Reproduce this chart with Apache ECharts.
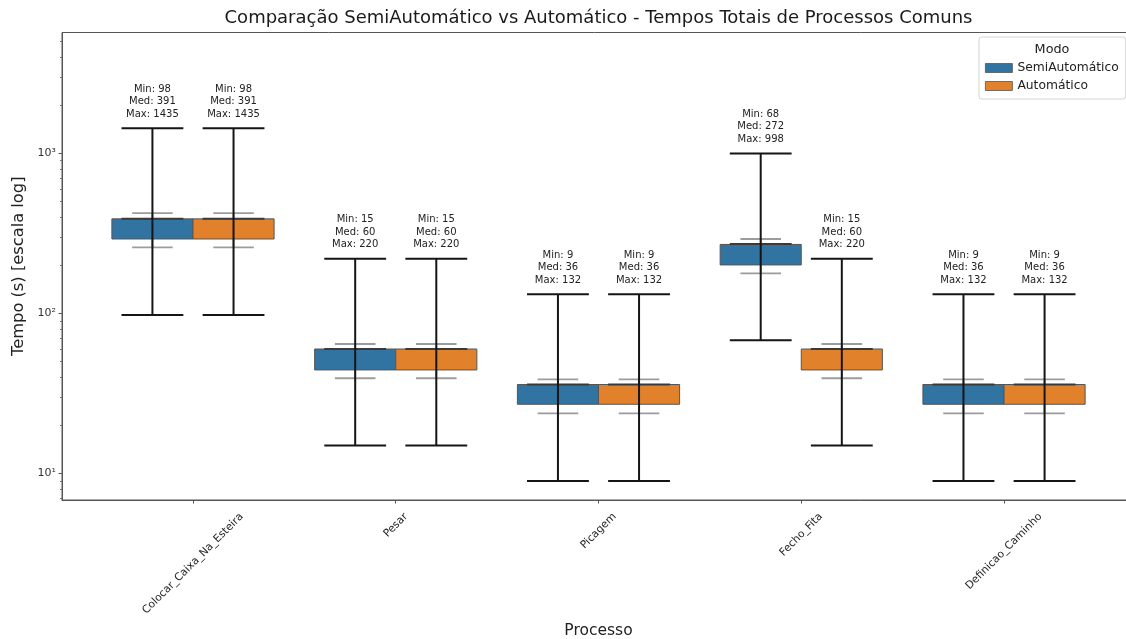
<!DOCTYPE html>
<html><head><meta charset="utf-8">
<script src="https://cdn.jsdelivr.net/npm/echarts@6/dist/echarts.min.js"></script>
<style>html,body{margin:0;padding:0;background:#fff}#c{width:1126px;height:639px}</style>
</head><body><div id="c"></div>
<script>
const categories = ['Colocar_Caixa_Na_Esteira', 'Pesar', 'Picagem', 'Fecho_Fita', 'Definicao_Caminho'];
const seriesNames = ['SemiAutomático', 'Automático'];
const semiMin = [98, 15, 9, 68, 9];
const semiMed = [391, 60, 36, 272, 36];
const semiMax = [1435, 220, 132, 998, 132];
const semiQ1 = [292, 44.4, 27.1, 201, 27.1];
const semiQ3 = [390, 60, 36, 270, 36];
const semiWhiskLo = [259, 39.4, 23.8, 178, 23.8];
const semiWhiskHi = [423, 64.5, 38.8, 292, 38.8];
const autoMin = [98, 15, 9, 15, 9];
const autoMed = [391, 60, 36, 60, 36];
const autoMax = [1435, 220, 132, 220, 132];
const autoQ1 = [292, 44.4, 27.1, 44.4, 27.1];
const autoQ3 = [390, 60, 36, 60, 36];
const autoWhiskLo = [259, 39.4, 23.8, 39.4, 23.8];
const autoWhiskHi = [423, 64.5, 38.8, 64.5, 38.8];
const yTickValues = [10, 100, 1000];
const yTickLabels = ['10\u00b9', '10\u00b2', '10\u00b3'];
const yMinorTicks = [7, 8, 9, 20, 30, 40, 50, 60, 70, 80, 90, 200, 300, 400, 500, 600, 700, 800, 900, 2000, 3000, 4000, 5000];
const colors = ['#3274a1', '#e1812c'];

const FONT = '"DejaVu Sans", "Liberation Sans", sans-serif';
const X_FONT = 10.7;

function build(mn, q1, md, q3, wl, wh, mx) {
  return categories.map((c, i) => [i, wl[i], q1[i], md[i], q3[i], wh[i], mn[i], mx[i]]);
}
const dataSets = [
  build(semiMin, semiQ1, semiMed, semiQ3, semiWhiskLo, semiWhiskHi, semiMax),
  build(autoMin, autoQ1, autoMed, autoQ3, autoWhiskLo, autoWhiskHi, autoMax)
];

function renderItem(params, api) {
  const i = api.value(0);
  const off = params.seriesIndex === 0 ? -0.2 : 0.2;
  const y0 = 10;
  const cx = api.coord([i + off, y0])[0];
  const unit = api.coord([1, y0])[0] - api.coord([0, y0])[0];
  const bw = 0.4 * unit;
  const capW = 0.305 * unit;
  const gcapW = 0.2 * unit;
  const Y = v => api.coord([i, v])[1];
  const wl = api.value(1), q1 = api.value(2), md = api.value(3), q3 = api.value(4), wh = api.value(5), mn = api.value(6), mx = api.value(7);
  const gray = '#9c9c9c';
  const line = (x1, y1, x2, y2, stroke, lw) => ({ type: 'line', shape: { x1, y1, x2, y2 }, style: { stroke, lineWidth: lw } });
  const children = [
    line(cx, Y(q3), cx, Y(wh), gray, 1.8),
    line(cx, Y(q1), cx, Y(wl), gray, 1.8),
    line(cx - gcapW / 2, Y(wh), cx + gcapW / 2, Y(wh), gray, 1.8),
    line(cx - gcapW / 2, Y(wl), cx + gcapW / 2, Y(wl), gray, 1.8),
    { type: 'rect', shape: { x: cx - bw / 2, y: Y(q3), width: bw, height: Y(q1) - Y(q3) },
      style: { fill: api.visual('color'), stroke: '#555555', lineWidth: 1 } },
    line(cx - capW / 2, Y(md), cx + capW / 2, Y(md), '#3a3a3a', 2),
    line(cx, Y(mx), cx, Y(mn), '#151515', 2),
    line(cx - capW / 2, Y(mx), cx + capW / 2, Y(mx), '#151515', 2),
    line(cx - capW / 2, Y(mn), cx + capW / 2, Y(mn), '#151515', 2),
    { type: 'text', x: cx, y: Y(mx) - 8,
      style: { text: 'Min: ' + mn + '\nMed: ' + md + '\nMax: ' + mx, textAlign: 'center', textVerticalAlign: 'bottom',
        fontSize: 10, fontFamily: FONT, lineHeight: 12.5, fill: '#222' } }
  ];
  return { type: 'group', children };
}

const ctx = document.createElement('canvas').getContext('2d');
ctx.font = X_FONT + 'px ' + FONT;
const rich = {};
categories.forEach((c, i) => {
  const L = ctx.measureText(c).width;
  rich['c' + i] = { padding: [L / 2, L / 2, 0, 0], fontSize: X_FONT, fontFamily: FONT, color: '#262626' };
});

const yFormatter = v => { const k = yTickValues.findIndex(t => Math.abs(v - t) / t < 1e-6); return k >= 0 ? yTickLabels[k] : ''; };

const chart = echarts.init(document.getElementById('c'), null, { renderer: 'canvas' });
chart.setOption({
  animation: false,
  backgroundColor: '#fff',
  color: colors,
  grid: { left: 62, top: 32.5, width: 1073, height: 467.5, show: true, borderColor: '#555', borderWidth: 1,
    backgroundColor: 'transparent', outerBoundsMode: 'none', containLabel: false },
  xAxis: {
    type: 'value', min: -0.646, max: 4.646,
    axisLine: { show: true, onZero: false, lineStyle: { color: '#555', width: 1 } },
    axisTick: { show: true, length: 3.5, customValues: categories.map((c, i) => i), lineStyle: { color: '#555' } },
    splitLine: { show: false },
    axisLabel: {
      customValues: categories.map((c, i) => i), rotate: 45, align: 'center', verticalAlign: 'middle', margin: 15,
      formatter: v => '{c' + v + '|' + categories[v] + '}', rich
    },
    name: 'Processo', nameLocation: 'middle', nameGap: 123,
    nameTextStyle: { fontSize: 15.5, fontFamily: FONT, color: '#222' }
  },
  yAxis: [{
    type: 'log', logBase: 10, min: 6.84, max: 5690,
    axisLine: { show: true, onZero: false, lineStyle: { color: '#555', width: 1 } },
    axisTick: { show: true, length: 3.5, customValues: yTickValues, lineStyle: { color: '#555' } },
    splitLine: { show: false },
    axisLabel: { customValues: yTickValues, margin: 6, fontSize: 11, fontFamily: FONT, color: '#333', formatter: yFormatter },
    name: 'Tempo (s) [escala log]', nameLocation: 'middle', nameGap: 33,
    nameTextStyle: { fontSize: 16.3, fontFamily: FONT, color: '#222' }
  }, {
    type: 'log', logBase: 10, min: 6.84, max: 5690, position: 'left',
    axisLine: { show: false, onZero: false }, splitLine: { show: false }, axisLabel: { show: false },
    axisTick: { show: true, length: 2, customValues: yMinorTicks, lineStyle: { color: '#777' } }
  }],
  legend: {
    data: seriesNames.map(n => ({ name: n, icon: 'rect' })),
    orient: 'vertical', left: 979, top: 37, padding: [25, 7, 7, 6],
    itemWidth: 27, itemHeight: 9, itemGap: 6,
    textStyle: { fontSize: 12.3, fontFamily: FONT, color: '#222' },
    borderColor: '#d5d5d5', borderWidth: 1, borderRadius: 3, backgroundColor: '#fff',
    itemStyle: { borderColor: '#555', borderWidth: 0.8 }
  },
  graphic: [
    { type: 'text', x: 598.5, y: 18, style: { text: 'Comparação SemiAutomático vs Automático - Tempos Totais de Processos Comuns',
      textAlign: 'center', textVerticalAlign: 'middle', fontSize: 18, fontFamily: FONT, fill: '#1a1a1a' } },
    { type: 'text', x: 1052, y: 50, z: 100, style: { text: 'Modo', textAlign: 'center', textVerticalAlign: 'middle',
      fontSize: 12.8, fontFamily: FONT, fill: '#222' } }
  ],
  series: seriesNames.map((n, s) => ({
    type: 'custom', name: n, renderItem, data: dataSets[s],
    itemStyle: { color: colors[s] },
    encode: { x: 0, y: [6, 7] }, xAxisIndex: 0, yAxisIndex: 0, z: 2 + s
  }))
});
</script></body></html>
